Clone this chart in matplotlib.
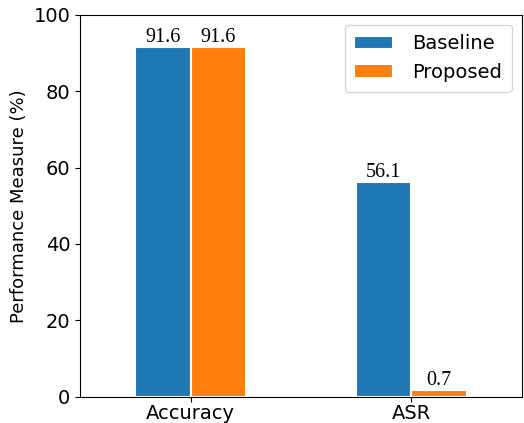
import numpy as np
import matplotlib
matplotlib.use("Agg")
import matplotlib.pyplot as plt

categories = ["Accuracy", "ASR"]
baseline = [91.6, 56.1]
proposed = [91.6, 1.8]
baseline_labels = ["91.6", "56.1"]
proposed_labels = ["91.6", "0.7"]

x = np.arange(len(categories))
w = 0.25

fig, ax = plt.subplots(figsize=(5.24, 4.23), dpi=100)
b1 = ax.bar(x - w / 2, baseline, w, label="Baseline", color="#1f77b4",
            edgecolor="white", linewidth=1.5)
b2 = ax.bar(x + w / 2, proposed, w, label="Proposed", color="#ff7f0e",
            edgecolor="white", linewidth=1.5)

for bars, labels in ((b1, baseline_labels), (b2, proposed_labels)):
    for rect, lab in zip(bars, labels):
        h = rect.get_height()
        ax.text(rect.get_x() + rect.get_width() / 2, h, lab,
                ha="center", va="bottom", fontsize=14.5, family="Liberation Serif")

ax.set_xticks(x)
ax.set_xticklabels(categories, fontsize=14)
ax.tick_params(axis="y", labelsize=14)
ax.tick_params(axis="x", pad=2)
ax.set_ylabel("Performance Measure (%)", fontsize=13)
ax.set_ylim(0, 100)
ax.set_xlim(-0.5, 1.5)
ax.legend(fontsize=14, loc="upper right", handletextpad=1.0, borderpad=0.5)

fig.subplots_adjust(left=0.153, right=0.996, top=0.965, bottom=0.062)
fig.savefig("out.png")
